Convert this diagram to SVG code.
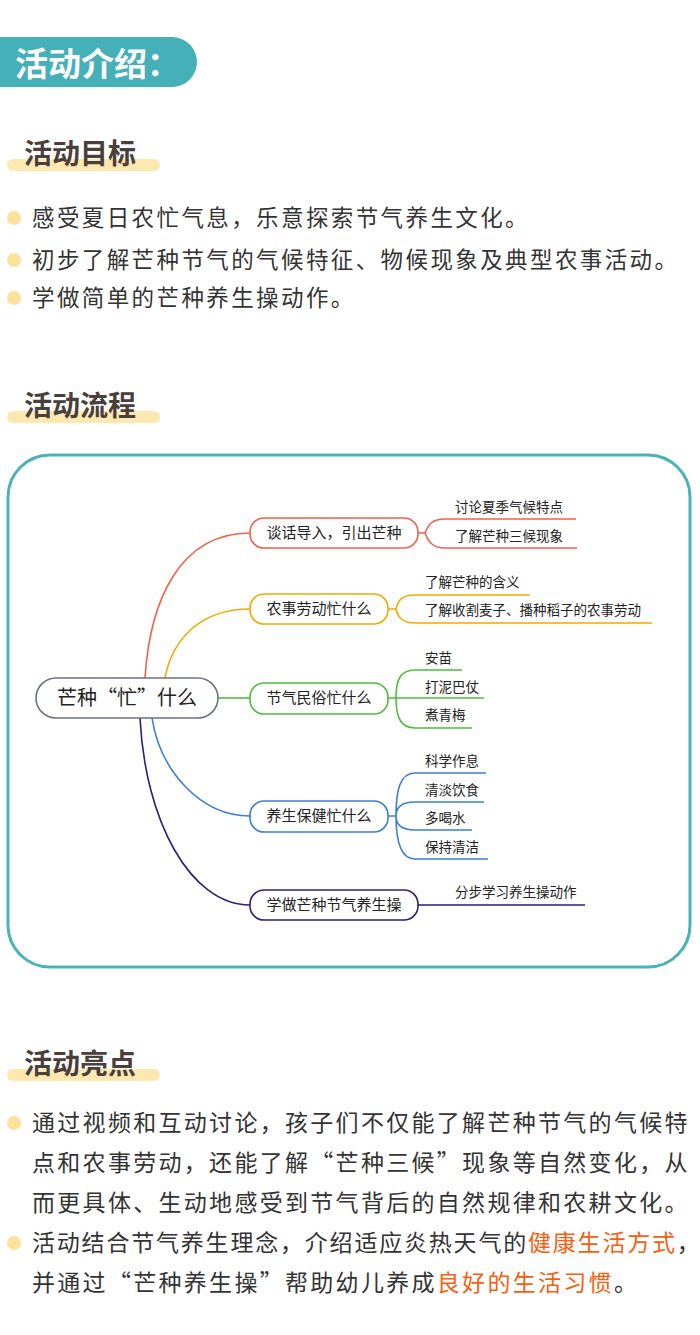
<svg xmlns="http://www.w3.org/2000/svg" width="700" height="1335" viewBox="0 0 700 1335">
<style>
text{font-family:"Noto Sans CJK SC","Noto Sans",sans-serif}
.h{font-size:28px;font-weight:bold;fill:#4a3f3a}
.bar{fill:#fde9b0}
.dot{fill:#fce29a}
.p{font-size:22.5px;fill:#333;letter-spacing:2.4px}
.p2{font-size:23px;fill:#333;letter-spacing:2.3px}
.o{fill:#f5600f}
.bx{fill:#fff;stroke-width:1.6}
.bt{font-size:15px;fill:#222;text-anchor:middle}
.st{font-size:13.5px;fill:#222}
.c{fill:none;stroke-width:1.6}
</style>
<rect width="700" height="1335" fill="#fff"/>
<path d="M0 37H172A25 25 0 0 1 172 87H0Z" fill="#45b0b8"/>
<text x="15" y="76" font-size="33" font-weight="bold" fill="#fff">活动介绍：</text>

<rect class="bar" x="7" y="159" width="153" height="12" rx="6"/>
<text class="h" x="24" y="164">活动目标</text>
<circle class="dot" cx="14" cy="218" r="7"/><text class="p" x="32" y="226">感受夏日农忙气息，乐意探索节气养生文化。</text>
<circle class="dot" cx="14" cy="260" r="7"/><text class="p" x="32" y="268">初步了解芒种节气的气候特征、物候现象及典型农事活动。</text>
<circle class="dot" cx="14" cy="298" r="7"/><text class="p" x="32" y="306">学做简单的芒种养生操动作。</text>

<rect class="bar" x="7" y="411" width="153" height="12" rx="6"/>
<text class="h" x="24" y="416">活动流程</text>

<rect x="8" y="455" width="682" height="512" rx="42" fill="none" stroke="#4ab3b8" stroke-width="3"/>

<g id="connectors">
<path class="c" stroke="#f4604a" d="M145 678C150 600 180 533 250 533"/>
<path class="c" stroke="#f5a800" d="M165 678C172 640 200 609 250 609"/>
<path class="c" stroke="#4fbf3a" d="M218 698H250"/>
<path class="c" stroke="#3a7fd5" d="M152 718C160 770 200 816 250 816"/>
<path class="c" stroke="#2a1f7a" stroke-width="2" d="M140 718C145 820 190 905 250 905"/>
<path class="c" stroke="#f4604a" d="M418 533H425M425 533C428 525 432 519 445 519H576M425 533C428 541 432 548 445 548H577"/>
<path class="c" stroke="#f5a800" d="M388 609H396M396 609C398 600 402 595 415 595H530M396 609C398 617 402 623 415 623H652"/>
<path class="c" stroke="#4fbf3a" d="M388 698H484M396 698C396 680 400 670 415 670H462M396 698C396 716 400 728 415 728H472"/>
<path class="c" stroke="#3a7fd5" d="M388 816H396M396 816C396 790 400 773 415 773H486M396 816C396 808 400 802 415 802H484M396 816C396 824 400 830 415 830H472M396 816C396 840 400 859 415 859H488"/>
<path class="c" stroke="#2a1f7a" stroke-width="2" d="M418 905H585"/>
</g>

<g id="root"><rect x="36" y="678" width="182" height="40" rx="20" fill="#fff" stroke="#6b7280" stroke-width="1.6"/><text x="127" y="705" font-size="20" fill="#222" text-anchor="middle">芒种“忙”什么</text></g>

<g id="n1"><rect class="bx" stroke="#f4604a" x="250" y="518" width="168" height="30" rx="14"/><text class="bt" x="334" y="538">谈话导入，引出芒种</text>
<text class="st" x="455" y="512">讨论夏季气候特点</text><text class="st" x="455" y="541">了解芒种三候现象</text></g>
<g id="n2"><rect class="bx" stroke="#f5a800" x="250" y="594" width="138" height="30" rx="14"/><text class="bt" x="319" y="614">农事劳动忙什么</text>
<text class="st" x="425" y="587">了解芒种的含义</text><text class="st" x="425" y="615">了解收割麦子、播种稻子的农事劳动</text></g>
<g id="n3"><rect class="bx" stroke="#4fbf3a" x="250" y="683" width="138" height="31" rx="14"/><text class="bt" x="319" y="703">节气民俗忙什么</text>
<text class="st" x="425" y="663">安苗</text><text class="st" x="425" y="692">打泥巴仗</text><text class="st" x="425" y="720">煮青梅</text></g>
<g id="n4"><rect class="bx" stroke="#3a7fd5" x="250" y="801" width="138" height="31" rx="14"/><text class="bt" x="319" y="821">养生保健忙什么</text>
<text class="st" x="425" y="766">科学作息</text><text class="st" x="425" y="795">清淡饮食</text><text class="st" x="425" y="823">多喝水</text><text class="st" x="425" y="852">保持清洁</text></g>
<g id="n5"><rect class="bx" stroke="#2a1f7a" x="250" y="890" width="168" height="30" rx="14"/><text class="bt" x="334" y="910">学做芒种节气养生操</text>
<text class="st" x="455" y="897">分步学习养生操动作</text></g>

<rect class="bar" x="7" y="1069" width="153" height="12" rx="6"/>
<text class="h" x="24" y="1074">活动亮点</text>
<circle class="dot" cx="14" cy="1123" r="7"/>
<text class="p2" x="32" y="1131">通过视频和互动讨论，孩子们不仅能了解芒种节气的气候特</text>
<text class="p2" x="32" y="1171">点和农事劳动，还能了解“芒种三候”现象等自然变化，从</text>
<text class="p2" x="32" y="1211">而更具体、生动地感受到节气背后的自然规律和农耕文化。</text>
<circle class="dot" cx="14" cy="1243" r="7"/>
<text class="p2" x="32" y="1251" style="letter-spacing:1.8px">活动结合节气养生理念，介绍适应炎热天气的<tspan class="o">健康生活方式</tspan>，</text>
<text class="p2" x="32" y="1291">并通过“芒种养生操”帮助幼儿养成<tspan class="o">良好的生活习惯</tspan>。</text>
</svg>
